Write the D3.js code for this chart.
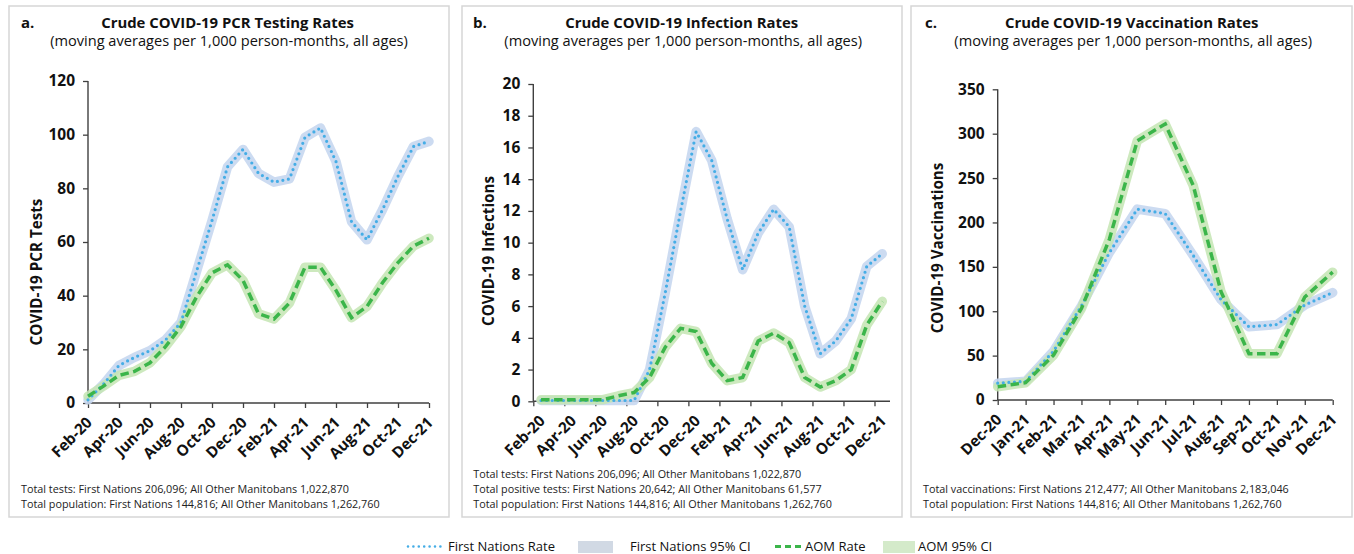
<!DOCTYPE html>
<html>
<head>
<meta charset="utf-8">
<script src="https://cdn.jsdelivr.net/npm/d3@7"></script>
<style>
  html, body { margin: 0; padding: 0; background: #fff; }
  svg { display: block; }
  text { font-family: "Open Sans", "Noto Sans", sans-serif; }
</style>
</head>
<body>
<svg id="chart" width="1354" height="554"></svg>
<script>
// ---------------- DATA ----------------
const monthsAB = ["Feb-20","Mar-20","Apr-20","May-20","Jun-20","Jul-20","Aug-20","Sep-20","Oct-20","Nov-20","Dec-20","Jan-21","Feb-21","Mar-21","Apr-21","May-21","Jun-21","Jul-21","Aug-21","Sep-21","Oct-21","Nov-21","Dec-21"];
const monthsC = ["Dec-20","Jan-21","Feb-21","Mar-21","Apr-21","May-21","Jun-21","Jul-21","Aug-21","Sep-21","Oct-21","Nov-21","Dec-21"];

const xTickLabelsAB = ["Feb-20","Apr-20","Jun-20","Aug-20","Oct-20","Dec-20","Feb-21","Apr-21","Jun-21","Aug-21","Oct-21","Dec-21"];
const xTickLabelsC = ["Dec-20","Jan-21","Feb-21","Mar-21","Apr-21","May-21","Jun-21","Jul-21","Aug-21","Sep-21","Oct-21","Nov-21","Dec-21"];

const yTicksA = [0, 20, 40, 60, 80, 100, 120];
const yTicksB = [0, 2, 4, 6, 8, 10, 12, 14, 16, 18, 20];
const yTicksC = [0, 50, 100, 150, 200, 250, 300, 350];

// a. PCR testing rates
const fnTests  = [1.2, 7, 14, 17, 19.5, 23.5, 30, 49, 68, 88, 94.5, 85.6, 82.3, 83.5, 99, 102.5, 90, 67.6, 60.8, 72, 84.5, 95.6, 97.5];
const aomTests = [2.5, 6.3, 10.3, 11.8, 15, 21, 28.5, 39.5, 48.5, 51.5, 45.7, 33.3, 31.3, 37.3, 50.6, 50.6, 42, 31.8, 36, 44.8, 52.3, 58.5, 61.4];

// b. Infection rates
const fnInf  = [0.05, 0.05, 0.05, 0.05, 0.05, 0.05, 0.05, 2.0, 6.8, 12, 17, 15.2, 11.5, 8.3, 10.6, 12.1, 11, 6, 3, 3.8, 5.2, 8.5, 9.3];
const aomInf = [0.1, 0.1, 0.1, 0.1, 0.1, 0.35, 0.55, 1.5, 3.4, 4.6, 4.4, 2.4, 1.3, 1.5, 3.8, 4.3, 3.7, 1.5, 0.9, 1.3, 2.0, 4.8, 6.3];

// c. Vaccination rates
const fnVacc  = [19, 21, 55, 106, 166, 215, 210, 163, 113, 82.5, 85, 107, 121];
const aomVacc = [15, 19.5, 50.6, 103, 181, 292, 311, 242, 122, 52, 52, 116, 144];

const titles = ["Crude COVID-19 PCR Testing Rates", "Crude COVID-19 Infection Rates", "Crude COVID-19 Vaccination Rates"];
const subtitle = "(moving averages per 1,000 person-months, all ages)";
const yTitles = ["COVID-19 PCR Tests", "COVID-19 Infections", "COVID-19 Vaccinations"];
const notesA = ["Total tests: First Nations 206,096; All Other Manitobans 1,022,870",
                "Total population: First Nations 144,816; All Other Manitobans 1,262,760"];
const notesB = ["Total tests: First Nations 206,096; All Other Manitobans 1,022,870",
                "Total positive tests: First Nations 20,642; All Other Manitobans 61,577",
                "Total population: First Nations 144,816; All Other Manitobans 1,262,760"];
const notesC = ["Total vaccinations: First Nations 212,477; All Other Manitobans 2,183,046",
                "Total population: First Nations 144,816; All Other Manitobans 1,262,760"];
const legendLabels = ["First Nations Rate", "First Nations 95% CI", "AOM Rate", "AOM 95% CI"];

// ---------------- STYLE ----------------
const C = {
  fnLine: "#45ADE6", fnBand: "#C6D7F0",
  aomLine: "#3BB54A", aomBand: "#C4E5B3",
  fnSwatch: "#D1D9E4", aomSwatch: "#D4EACA",
  axis: "#404040", border: "#D6D6D6", text: "#111"
};

const svg = d3.select("#chart");

const panels = [
  { letter: "a.", box: [9, 6, 440, 511], letterX: 21, titleX: 227.5,
    title: titles[0], yTitle: yTitles[0], yTitlePos: [36, 272],
    months: monthsAB, ticks: xTickLabelsAB, fn: fnTests, aom: aomTests,
    yTicks: yTicksA, xr: [88, 429], yr: [403, 81], mode: "point",
    notes: notesA, notesX: 21, notesY: [493, 508] },
  { letter: "b.", box: [462, 6, 440, 511], letterX: 473, titleX: 681.7,
    title: titles[1], yTitle: yTitles[1], yTitlePos: [488, 251],
    months: monthsAB, ticks: xTickLabelsAB, fn: fnInf, aom: aomInf,
    yTicks: yTicksB, xr: [533.3, 890], yr: [401.3, 84], mode: "band",
    notes: notesB, notesX: 473.3, notesY: [478, 493, 508] },
  { letter: "c.", box: [911, 6, 441, 511], letterX: 925, titleX: 1131.7,
    title: titles[2], yTitle: yTitles[2], yTitlePos: [937, 248],
    months: monthsC, ticks: xTickLabelsC, fn: fnVacc, aom: aomVacc,
    yTicks: yTicksC, xr: [997.7, 1332.7], yr: [400, 89.3], mode: "point",
    notes: notesC, notesX: 923, notesY: [493, 508] }
];

panels.forEach(p => {
  const g = svg.append("g");
  // border box
  g.append("rect").attr("x", p.box[0]).attr("y", p.box[1])
    .attr("width", p.box[2]).attr("height", p.box[3])
    .attr("fill", "#fff").attr("stroke", C.border).attr("stroke-width", 1.5);

  // titles
  g.append("text").attr("x", p.letterX).attr("y", 27.5).text(p.letter)
    .attr("font-size", 15).attr("font-weight", 700).attr("fill", C.text);
  g.append("text").attr("x", p.titleX).attr("y", 27.5).text(p.title)
    .attr("text-anchor", "middle").attr("font-size", 14.9).attr("font-weight", 700).attr("fill", C.text);
  g.append("text").attr("x", p.titleX + 1.5).attr("y", 46).text(subtitle)
    .attr("text-anchor", "middle").attr("font-size", 14.6).attr("fill", C.text);

  // scales
  const yMax = p.yTicks[p.yTicks.length - 1];
  const y = d3.scaleLinear().domain([0, yMax]).range(p.yr);
  let xPos, xTickScale, labelShift = 0;
  if (p.mode === "band") {
    const xb = d3.scaleBand().domain(p.months).range(p.xr).padding(0);
    xPos = m => xb(m) + xb.bandwidth() / 2;
    xTickScale = d3.scalePoint().domain(p.months)
      .range([p.xr[0], p.xr[0] + (p.months.length - 1) * xb.bandwidth()]);
    labelShift = xb.bandwidth() / 2;
  } else {
    const xp = d3.scalePoint().domain(p.months).range(p.xr);
    xPos = m => xp(m);
    xTickScale = xp;
  }

  // y axis
  const ya = g.append("g").attr("transform", `translate(${p.xr[0]},0)`)
    .call(d3.axisLeft(y).tickValues(p.yTicks).tickSize(5).tickSizeOuter(0).tickPadding(8));
  ya.select(".domain").remove();
  ya.selectAll(".tick line").attr("stroke", C.axis).attr("stroke-width", 1.3);
  ya.selectAll(".tick text").attr("font-size", 15.5).attr("font-weight", 700)
    .attr("fill", C.text).style("font-family", '"Open Sans", sans-serif');
  g.append("line").attr("x1", p.xr[0]).attr("x2", p.xr[0])
    .attr("y1", y(0)).attr("y2", y(yMax)).attr("stroke", C.axis).attr("stroke-width", 1.4);

  // x axis
  const xa = g.append("g").attr("transform", `translate(0,${y(0)})`)
    .call(d3.axisBottom(xTickScale).tickValues(p.ticks).tickSize(5).tickSizeOuter(0));
  xa.select(".domain").remove();
  xa.selectAll(".tick line").attr("stroke", C.axis).attr("stroke-width", 1.3);
  xa.selectAll(".tick text")
    .attr("x", 0).attr("y", 0).attr("dy", 0)
    .attr("text-anchor", "end")
    .attr("transform", `translate(${4.5 + labelShift},20.5) rotate(-45)`)
    .attr("font-size", 15.3).attr("font-weight", 700).attr("fill", C.text)
    .style("font-family", '"Open Sans", sans-serif');
  g.append("line").attr("x1", p.xr[0]).attr("x2", p.xr[1])
    .attr("y1", y(0)).attr("y2", y(0)).attr("stroke", C.axis).attr("stroke-width", 1.4);

  // y title
  g.append("text")
    .attr("transform", `translate(${p.yTitlePos[0] + 5.5},${p.yTitlePos[1]}) rotate(-90)`)
    .attr("text-anchor", "middle").text(p.yTitle)
    .attr("font-size", 15.2).attr("font-weight", 700).attr("fill", C.text);

  // lines
  const line = d3.line().x((d, i) => xPos(p.months[i])).y(d => y(d));
  const bandW = 9.5;
  g.append("path").attr("d", line(p.fn)).attr("fill", "none")
    .attr("stroke", C.fnBand).attr("stroke-width", bandW).attr("stroke-linejoin", "round")
    .attr("stroke-linecap", "round").attr("opacity", 0.9);
  g.append("path").attr("d", line(p.aom)).attr("fill", "none")
    .attr("stroke", C.aomBand).attr("stroke-width", bandW).attr("stroke-linejoin", "round")
    .attr("stroke-linecap", "round").attr("opacity", 0.85);
  g.append("path").attr("d", line(p.fn)).attr("fill", "none")
    .attr("stroke", C.fnLine).attr("stroke-width", 3.2).attr("stroke-linecap", "round")
    .attr("stroke-dasharray", "0 5.6");
  g.append("path").attr("d", line(p.aom)).attr("fill", "none")
    .attr("stroke", C.aomLine).attr("stroke-width", 3.5)
    .attr("stroke-dasharray", "8.5 4.5");

  // notes
  p.notes.forEach((t, i) => {
    g.append("text").attr("x", p.notesX).attr("y", p.notesY[i]).text(t)
      .attr("font-size", 10.8).attr("fill", "#222");
  });
});

// ---------------- LEGEND ----------------
const lg = svg.append("g");
const ly = 546.5;
lg.append("line").attr("x1", 408).attr("x2", 445).attr("y1", ly).attr("y2", ly)
  .attr("stroke", C.fnLine).attr("stroke-width", 2.6).attr("stroke-linecap", "round")
  .attr("stroke-dasharray", "0 5.4");
lg.append("text").attr("x", 448).attr("y", 550.5).text(legendLabels[0]);
lg.append("rect").attr("x", 578).attr("y", 541).attr("width", 35).attr("height", 12).attr("fill", C.fnSwatch);
lg.append("text").attr("x", 630).attr("y", 550.5).text(legendLabels[1]);
lg.append("line").attr("x1", 775).attr("x2", 801).attr("y1", ly).attr("y2", ly)
  .attr("stroke", C.aomLine).attr("stroke-width", 3).attr("stroke-dasharray", "6 4");
lg.append("text").attr("x", 805).attr("y", 550.5).text(legendLabels[2]);
lg.append("rect").attr("x", 883).attr("y", 541).attr("width", 32).attr("height", 12).attr("fill", C.aomSwatch);
lg.append("text").attr("x", 918).attr("y", 550.5).text(legendLabels[3]);
lg.selectAll("text").attr("font-size", 13).attr("fill", "#111");
</script>
</body>
</html>
